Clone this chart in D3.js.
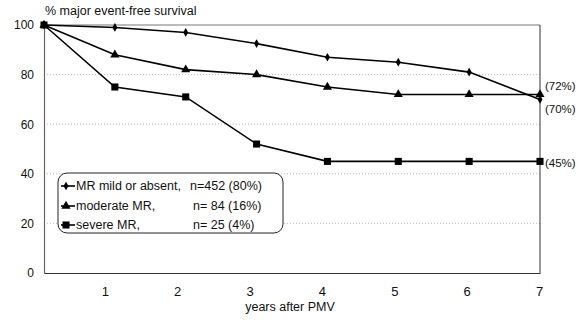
<!DOCTYPE html>
<html>
<head>
<meta charset="utf-8">
<script src="https://cdn.jsdelivr.net/npm/d3@7"></script>
<style>
  body { margin: 0; background: #fff; }
  text { font-family: "Liberation Sans", Arial, sans-serif; fill: #111; }
</style>
</head>
<body>
<div id="chart"></div>
<script>
// chart values
const years = [0, 1, 2, 3, 4, 5, 6, 7];
const mildSurvival = [100, 99, 97, 92.5, 87, 85, 81, 70];
const moderateSurvival = [100, 88, 82, 80, 75, 72, 72, 72];
const severeSurvival = [100, 75, 71, 52, 45, 45, 45, 45];
const yTicks = [0, 20, 40, 60, 80, 100];
const gridTicks = [20, 40, 60, 80];
const xTicks = [1, 2, 3, 4, 5, 6, 7];
const seriesNames = ["MR mild or absent,", "moderate MR,", "severe MR,"];
const seriesCounts = ["n=452 (80%)", "n= 84 (16%)", "n= 25 (4%)"];
const endLabels = ["(70%)", "(72%)", "(45%)"];

const width = 584, height = 322;
const margin = { top: 25, right: 44, bottom: 49, left: 44 };
const innerW = width - margin.left - margin.right;
const innerH = height - margin.top - margin.bottom;

const svg = d3.select('#chart').append('svg')
    .attr('width', width)
    .attr('height', height);

const chart = svg.append('g')
    .attr('transform', `translate(${margin.left},${margin.top})`);

const x = d3.scaleLinear().domain([0, 7]).range([0, innerW]);
const y = d3.scaleLinear().domain([0, 100]).range([innerH, 0]);

// dotted gridlines
chart.selectAll('.grid')
    .data(gridTicks)
    .enter().append('line')
    .attr('x1', 0).attr('x2', innerW)
    .attr('y1', d => y(d)).attr('y2', d => y(d))
    .attr('stroke', '#aaa')
    .attr('stroke-width', 0.8)
    .attr('stroke-dasharray', '1,2');

// frame: top and right
chart.append('line')
    .attr('x1', 0).attr('x2', innerW)
    .attr('y1', y(100)).attr('y2', y(100))
    .attr('stroke', '#777').attr('stroke-width', 1);
chart.append('line')
    .attr('x1', innerW).attr('x2', innerW)
    .attr('y1', y(100)).attr('y2', y(0))
    .attr('stroke', '#333').attr('stroke-width', 1);

// y axis
const yAxis = chart.append('g')
    .call(d3.axisLeft(y).tickValues(yTicks).tickSize(0).tickPadding(10).tickFormat(d3.format('d')));
yAxis.select('.domain').attr('stroke', '#666').attr('stroke-width', 1.2);
yAxis.selectAll('text')
    .style('font-size', '12px')
    .style('font-family', '"Liberation Sans", Arial, sans-serif');

// x axis
const xAxis = chart.append('g')
    .attr('transform', `translate(0,${innerH})`)
    .call(d3.axisBottom(x).tickValues(xTicks).tickSize(0).tickPadding(14).tickFormat(d3.format('d')));
xAxis.select('.domain').attr('stroke', '#333').attr('stroke-width', 1.2);
xAxis.selectAll('text')
    .attr('dx', d => -10 + (d - 1) * 1.5)
    .style('font-size', '13px')
    .style('font-family', '"Liberation Sans", Arial, sans-serif');

// titles
svg.append('text')
    .attr('x', 45).attr('y', 15)
    .style('font-size', '12.5px')
    .text('% major event-free survival');
svg.append('text')
    .attr('x', 290).attr('y', 311)
    .attr('text-anchor', 'middle')
    .style('font-size', '12.5px')
    .text('years after PMV');

const line = d3.line()
    .x((d, i) => x(years[i]))
    .y(d => y(d));

const seriesList = [
    { values: mildSurvival, symbol: d3.symbolDiamond, size: 22 },
    { values: moderateSurvival, symbol: d3.symbolTriangle, size: 36 },
    { values: severeSurvival, symbol: d3.symbolSquare, size: 50 }
];

seriesList.forEach(s => {
    chart.append('path')
        .datum(s.values)
        .attr('d', line)
        .attr('fill', 'none')
        .attr('stroke', '#000')
        .attr('stroke-width', 1.6);
    chart.selectAll(null)
        .data(s.values)
        .enter().append('path')
        .attr('transform', (d, i) => `translate(${x(years[i])},${y(d)})`)
        .attr('d', d3.symbol().type(s.symbol).size(s.size))
        .attr('fill', '#000');
});

// end-point labels
const endValues = [mildSurvival[7], moderateSurvival[7], severeSurvival[7]];
const endOffsets = [10, -8, 2];
chart.selectAll('.endlab')
    .data(endLabels)
    .enter().append('text')
    .attr('x', x(7) + 5)
    .attr('y', (d, i) => y(endValues[i]) + endOffsets[i])
    .attr('dy', '0.35em')
    .style('font-size', '11.5px')
    .text(d => d);

// legend
const legend = svg.append('g').attr('transform', 'translate(58,173)');
legend.append('rect')
    .attr('width', 225).attr('height', 60)
    .attr('rx', 9).attr('ry', 9)
    .attr('fill', '#fff')
    .attr('stroke', '#222').attr('stroke-width', 1);

const rowY = [13, 33, 52];
seriesList.forEach((s, i) => {
    const row = legend.append('g').attr('transform', `translate(0,${rowY[i]})`);
    row.append('line')
        .attr('x1', 3).attr('x2', 17)
        .attr('y1', 0).attr('y2', 0)
        .attr('stroke', '#000').attr('stroke-width', 1.6);
    row.append('path')
        .attr('transform', 'translate(8,0)')
        .attr('d', d3.symbol().type(s.symbol).size(s.size))
        .attr('fill', '#000');
    row.append('text')
        .attr('x', 18).attr('dy', '0.35em')
        .style('font-size', '12.5px')
        .text(seriesNames[i]);
    row.append('text')
        .attr('x', i === 0 ? 132 : 135).attr('dy', '0.35em')
        .style('font-size', '12.5px')
        .text(seriesCounts[i]);
});
</script>
</body>
</html>
